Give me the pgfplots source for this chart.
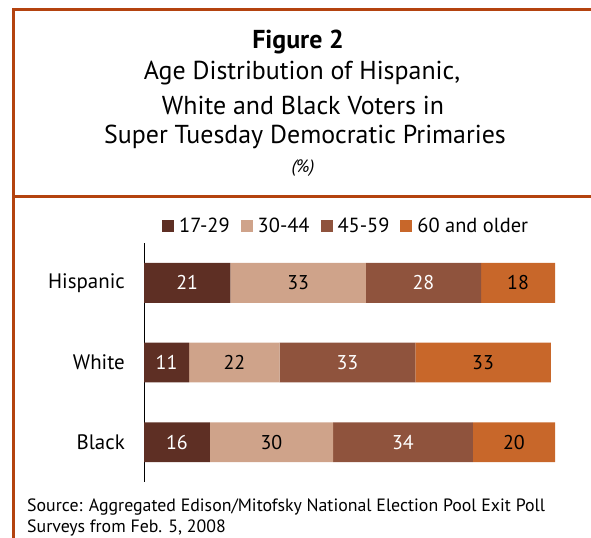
\documentclass[border=0pt]{standalone}
\usepackage{pgfplots}
\pgfplotsset{compat=1.18}
\usepackage{fontspec}
\setmainfont{PT Sans}
\definecolor{frame}{HTML}{B4430F}
\definecolor{cA}{HTML}{5E2F24}
\definecolor{cB}{HTML}{CFA38A}
\definecolor{cC}{HTML}{8F533D}
\definecolor{cD}{HTML}{C8672A}
\pgfplotsset{sqlegend/.style={legend image code/.code={\fill[##1] (0bp,-6bp) rectangle (12bp,6bp);}}}
\begin{document}
\begin{tikzpicture}
\useasboundingbox (0bp,0bp) rectangle (591bp,538bp);
\draw[frame, line width=3bp] (591bp,528bp) -- (13.5bp,528bp) -- (13.5bp,0bp);
\draw[frame, line width=3bp] (13.5bp,341.5bp) -- (591bp,341.5bp);
\node[font=\fontsize{26}{30}\selectfont\bfseries] at (298bp,496bp) {Figure 2};
\node[font=\fontsize{26}{30}\selectfont] at (302bp,465bp) {Age Distribution of Hispanic,};
\node[font=\fontsize{26}{30}\selectfont] at (303bp,433bp) {White and Black Voters in};
\node[font=\fontsize{26}{30}\selectfont] at (305bp,401bp) {Super Tuesday Democratic Primaries};
\node[font=\fontsize{18}{21}\selectfont\itshape] at (303bp,370bp) {(\%)};
\node[font=\fontsize{17.9}{21}\selectfont, anchor=west, inner sep=0pt] at (27bp,31bp) {Source: Aggregated Edison/Mitofsky National Election Pool Exit Poll};
\node[font=\fontsize{17.9}{21}\selectfont, anchor=west, inner sep=0pt] at (27bp,10bp) {Surveys from Feb. 5, 2008};
\begin{axis}[at={(144bp,56bp)}, anchor=south west, scale only axis,
  width=411bp, height=239bp, xmin=0, xmax=100, ymin=-0.5, ymax=2.5,
  y dir=reverse, xbar stacked, bar width=0.5,
  axis x line=none, axis y line*=left, y axis line style={black, line width=0.8bp},
  ytick={0,1,2}, yticklabels={Hispanic,White,Black}, major tick length=0pt,
  yticklabel style={font=\fontsize{21}{24}\selectfont, inner sep=0pt, xshift=-19bp},
  legend columns=4,
  legend style={draw=none, fill=none, at={(axis description cs:0.0438,1.071)}, anchor=west,
    font=\fontsize{20.5}{24}\selectfont, inner sep=0pt,
    /tikz/every odd column/.append style={column sep=3bp},
    /tikz/every even column/.append style={column sep=9bp}},
  legend cell align=left]
\addplot[fill=cA, draw=none, sqlegend] coordinates {(21,0) (11,1) (16,2)};
\addplot[fill=cB, draw=none, sqlegend] coordinates {(33,0) (22,1) (30,2)};
\addplot[fill=cC, draw=none, sqlegend] coordinates {(28,0) (33,1) (34,2)};
\addplot[fill=cD, draw=none, sqlegend] coordinates {(18,0) (33,1) (20,2)};
\legend{17-29,30-44,45-59,60 and older}
\end{axis}
\begin{axis}[at={(144bp,56bp)}, anchor=south west, scale only axis,
  width=411bp, height=239bp, xmin=0, xmax=100, ymin=-0.5, ymax=2.5,
  y dir=reverse, hide axis]
\addplot[draw=none, mark=none, nodes near coords, point meta=explicit symbolic,
  nodes near coords style={anchor=center, text=white, font=\fontsize{20}{24}\selectfont}]
  coordinates {(10.5,0)[21] (68,0)[28] (5.5,1)[11] (49.5,1)[33] (8,2)[16] (63,2)[34]};
\addplot[draw=none, mark=none, nodes near coords, point meta=explicit symbolic,
  nodes near coords style={anchor=center, text=black, font=\fontsize{20}{24}\selectfont}]
  coordinates {(37.5,0)[33] (91,0)[18] (22,1)[22] (82.5,1)[33] (31,2)[30] (90,2)[20]};
\end{axis}
\end{tikzpicture}
\end{document}
